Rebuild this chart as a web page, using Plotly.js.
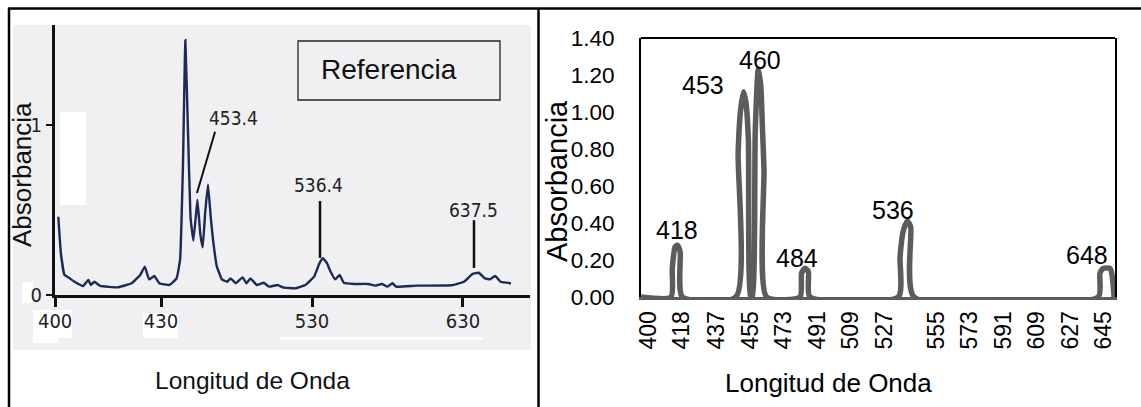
<!DOCTYPE html>
<html>
<head>
<meta charset="utf-8">
<script src="https://cdn.plot.ly/plotly-3.0.1.min.js"></script>
<style>
  html, body { margin: 0; padding: 0; background: #ffffff; }
  #chart { width: 1141px; height: 407px; }
</style>
</head>
<body>
<div id="chart"></div>
<script>
// ---------- Left panel: reference spectrum ----------
const refWavelength = [
  400.9, 401.6, 402.6, 404.0, 405.5, 407.9, 409.4, 410.1, 411.1, 412.8,
  417.7, 421.7, 424.1, 425.4, 426.6, 428.1, 429.5, 435.7, 440.3, 442.6,
  444.5, 446.1, 447.9, 449.5, 451.4, 453.0, 454.1, 456.0, 457.6, 459.2,
  461.1, 462.9, 464.5, 466.9, 470.3, 473.8, 476.1, 479.5, 484.1, 486.5,
  489.2, 493.4, 498.0, 501.5, 507.2, 510.7, 518.7, 525.7, 531.4, 534.9,
  537.2, 540.0, 541.8, 545.3, 548.3, 551.1, 557.9, 567.2, 571.8, 576.4,
  579.9, 583.3, 585.7, 599.5, 622.5, 630.6, 636.4, 640.5, 644.5, 647.9,
  651.4, 654.9, 661.8
];
const refAbsorbance = [
  0.46, 0.25, 0.12, 0.10, 0.078, 0.053, 0.088, 0.059, 0.078, 0.053,
  0.045, 0.069, 0.118, 0.167, 0.092, 0.112, 0.069, 0.059, 0.098, 0.206,
  0.755, 1.50, 0.95, 0.46, 0.32, 0.46, 0.56, 0.36, 0.28, 0.48,
  0.65, 0.46, 0.32, 0.17, 0.092, 0.078, 0.098, 0.069, 0.104, 0.069,
  0.098, 0.059, 0.072, 0.049, 0.059, 0.045, 0.039, 0.059, 0.108, 0.186,
  0.216, 0.186, 0.147, 0.092, 0.118, 0.072, 0.065, 0.065, 0.055, 0.065,
  0.049, 0.069, 0.049, 0.055, 0.057, 0.078, 0.124, 0.131, 0.098, 0.092,
  0.112, 0.078, 0.069
];
const refTickValues = [400, 430, 530, 630];
const refYTicks = [0, 1];
const refPeakLabels = ['453.4', '536.4', '637.5'];

// ---------- Right panel: measured spectrum ----------
const sampleWavelength = [
  396.2,
  412.3, 413.0, 414.5, 415.7, 417.2, 418.4,
  447.2, 448.4, 449.6, 451.3, 452.6, 453.9, 455.1,
  456.0, 457.6, 459.2, 460.5, 461.5, 462.3, 463.7,
  481.6, 482.5, 484.3, 486.1, 487.0,
  534.5, 535.4, 537.2, 539.3, 541.1, 542.9,
  641.9, 642.8, 644.6, 648.2, 649.3, 650.4
];
const sampleAbsorbance = [
  0,
  0, 0.155, 0.27, 0.28, 0.245, 0,
  0, 0.78, 1.00, 1.11, 1.05, 0.85, 0,
  0, 0.90, 1.23, 1.15, 0.90, 0.69, 0,
  0, 0.13, 0.155, 0.137, 0,
  0, 0.218, 0.36, 0.41, 0.38, 0,
  0, 0.128, 0.155, 0.155, 0.12, 0
];
const sampleTickLabels = ['400','418','437','455','473','491','509','527','555','573','591','609','627','645'];
const sampleYTicks = [0, 0.2, 0.4, 0.6, 0.8, 1.0, 1.2, 1.4];
const samplePeakLabels = ['418', '453', '460', '484', '536', '648'];

// ---------- helpers (layout only) ----------
const W = 1141, H = 407;
const px = x => x / W;
const py = y => 1 - y / H;
// the reference scan has a compressed segment 400-430 nm
const toRefAxis = w => (w < 430 ? 430 - (430 - w) * 2.338 : w);

const narrow = 'DejaVu Sans Condensed, Liberation Sans Narrow, sans-serif';
const arial = 'Liberation Sans, Arial, sans-serif';

const traces = [
  {
    x: refWavelength.map(toRefAxis), y: refAbsorbance,
    xaxis: 'x', yaxis: 'y', type: 'scatter', mode: 'lines',
    line: { color: '#1b2a57', width: 2.4, shape: 'spline', smoothing: 0.3 },
    hoverinfo: 'skip'
  },
  {
    x: sampleWavelength, y: sampleAbsorbance,
    xaxis: 'x2', yaxis: 'y2', type: 'scatter', mode: 'lines',
    line: { color: '#5c5c5c', width: 5.5, shape: 'spline', smoothing: 0.6 },
    hoverinfo: 'skip'
  }
];

const shapes = [
  // scanned image background
  { type: 'rect', xref: 'paper', yref: 'paper', x0: px(13), x1: px(531), y0: py(350), y1: py(25),
    fillcolor: '#f0f0f2', line: { width: 0 }, layer: 'below' },
  // white scan artifacts
  { type: 'rect', xref: 'paper', yref: 'paper', x0: px(60), x1: px(86), y0: py(205), y1: py(112),
    fillcolor: '#ffffff', line: { width: 0 }, layer: 'below' },
  { type: 'rect', xref: 'paper', yref: 'paper', x0: px(22), x1: px(33), y0: py(303), y1: py(282),
    fillcolor: '#ffffff', line: { width: 0 }, layer: 'below' },
  { type: 'rect', xref: 'paper', yref: 'paper', x0: px(33), x1: px(72), y0: py(338), y1: py(310),
    fillcolor: '#ffffff', line: { width: 0 }, layer: 'below' },
  { type: 'rect', xref: 'paper', yref: 'paper', x0: px(33), x1: px(58), y0: py(343), y1: py(338),
    fillcolor: '#ffffff', line: { width: 0 }, layer: 'below' },
  { type: 'rect', xref: 'paper', yref: 'paper', x0: px(143), x1: px(178), y0: py(338), y1: py(313),
    fillcolor: '#ffffff', line: { width: 0 }, layer: 'below' },
  { type: 'rect', xref: 'paper', yref: 'paper', x0: px(280), x1: px(483), y0: py(340), y1: py(337),
    fillcolor: '#ffffff', line: { width: 0 }, layer: 'below' },
  // Referencia box
  { type: 'rect', xref: 'paper', yref: 'paper', x0: px(298), x1: px(500), y0: py(100), y1: py(41),
    line: { color: '#222', width: 1.3 }, fillcolor: 'rgba(0,0,0,0)' },
  // peak leader lines (left)
  { type: 'line', xref: 'x', yref: 'y', x0: toRefAxis(465.8), y0: 0.96, x1: toRefAxis(453.8), y1: 0.60,
    line: { color: '#111', width: 2 } },
  { type: 'line', xref: 'x', yref: 'y', x0: toRefAxis(535.3), y0: 0.553, x1: toRefAxis(535.3), y1: 0.218,
    line: { color: '#111', width: 2.5 } },
  { type: 'line', xref: 'x', yref: 'y', x0: toRefAxis(637.3), y0: 0.44, x1: toRefAxis(637.3), y1: 0.159,
    line: { color: '#111', width: 2.5 } },
  // right plot top border
  { type: 'line', xref: 'x2 domain', yref: 'y2 domain', x0: 0, x1: 1, y0: 1, y1: 1,
    line: { color: '#000', width: 2 } },
  // table borders
  { type: 'line', xref: 'paper', yref: 'paper', x0: px(8), x1: 1, y0: py(8.5), y1: py(8.5),
    line: { color: '#000', width: 2.5 } },
  { type: 'line', xref: 'paper', yref: 'paper', x0: px(9), x1: px(9), y0: 0, y1: py(8.5),
    line: { color: '#000', width: 2.5 } },
  { type: 'line', xref: 'paper', yref: 'paper', x0: px(538.5), x1: px(538.5), y0: 0, y1: py(8.5),
    line: { color: '#000', width: 2.5 } }
];

const annotations = [
  // left titles
  { xref: 'paper', yref: 'paper', x: px(22), y: py(175), text: 'Absorbancia', textangle: -90,
    showarrow: false, xanchor: 'center', yanchor: 'middle', font: { family: arial, size: 26, color: '#111' } },
  { xref: 'paper', yref: 'paper', x: px(252), y: py(380), text: 'Longitud de Onda',
    showarrow: false, xanchor: 'center', yanchor: 'middle', font: { family: arial, size: 24.5, color: '#111' } },
  { xref: 'paper', yref: 'paper', x: px(389), y: py(70), text: 'Referencia',
    showarrow: false, xanchor: 'center', yanchor: 'middle', font: { family: arial, size: 28, color: '#111' } },
  // left peak labels
  { xref: 'x', yref: 'y', x: toRefAxis(477.7), y: 1.04, text: refPeakLabels[0], showarrow: false,
    xanchor: 'center', yanchor: 'middle', font: { family: narrow, size: 19, color: '#222' } },
  { xref: 'x', yref: 'y', x: toRefAxis(534.4), y: 0.647, text: refPeakLabels[1], showarrow: false,
    xanchor: 'center', yanchor: 'middle', font: { family: narrow, size: 19, color: '#222' } },
  { xref: 'x', yref: 'y', x: toRefAxis(637.3), y: 0.50, text: refPeakLabels[2], showarrow: false,
    xanchor: 'center', yanchor: 'middle', font: { family: narrow, size: 19, color: '#222' } },
  // right titles
  { xref: 'paper', yref: 'paper', x: px(557), y: py(181), text: 'Absorbancia', textangle: -90,
    showarrow: false, xanchor: 'center', yanchor: 'middle', font: { family: arial, size: 29, color: '#000' } },
  { xref: 'paper', yref: 'paper', x: px(829), y: py(383), text: 'Longitud de Onda',
    showarrow: false, xanchor: 'center', yanchor: 'middle', font: { family: arial, size: 26, color: '#000' } }
];

// right data labels
const sampleLabelPos = [[415.4, 0.362], [429.7, 1.146], [460.1, 1.281], [480.0, 0.211], [531.6, 0.47], [635.7, 0.227]];
samplePeakLabels.forEach((t, i) => {
  annotations.push({ xref: 'x2', yref: 'y2', x: sampleLabelPos[i][0], y: sampleLabelPos[i][1], text: t,
    showarrow: false, xanchor: 'center', yanchor: 'middle', font: { family: arial, size: 25, color: '#000' } });
});

const layout = {
  width: W, height: H,
  margin: { l: 0, r: 0, t: 0, b: 0 },
  paper_bgcolor: '#ffffff', plot_bgcolor: 'rgba(0,0,0,0)',
  showlegend: false,
  xaxis: {
    domain: [px(55), px(530)], anchor: 'y',
    range: [toRefAxis(400) - 0.1, 674.4],
    tickmode: 'array', tickvals: refTickValues.map(toRefAxis), ticktext: refTickValues.map(String),
    ticks: 'outside', ticklen: 9, tickwidth: 3, tickcolor: '#111', ticklabelstandoff: -3,
    showline: true, linewidth: 3, linecolor: '#111',
    showgrid: false, zeroline: false, fixedrange: true,
    tickfont: { family: narrow, size: 20, color: '#222' }
  },
  yaxis: {
    domain: [py(295), py(25)], anchor: 'x',
    range: [0, 1.588],
    tickmode: 'array', tickvals: refYTicks, ticktext: refYTicks.map(String),
    ticks: 'outside', ticklen: 6, tickwidth: 2.5, tickcolor: '#111',
    showline: true, linewidth: 3, linecolor: '#111',
    showgrid: false, zeroline: false, fixedrange: true,
    tickfont: { family: narrow, size: 20, color: '#222' }
  },
  xaxis2: {
    domain: [px(641), px(1115)], anchor: 'y2',
    range: [396.2, 650.9],
    tickmode: 'array', tickvals: sampleTickLabels.map(Number), ticktext: sampleTickLabels,
    tickangle: -90, ticks: '', ticklabelstandoff: 2,
    showline: true, linewidth: 3, linecolor: '#5c5c5c',
    showgrid: false, zeroline: false, fixedrange: true,
    tickfont: { family: arial, size: 23, color: '#000' }
  },
  yaxis2: {
    domain: [py(297), py(38)], anchor: 'x2',
    range: [0, 1.4],
    tickmode: 'array', tickvals: sampleYTicks, ticktext: sampleYTicks.map(v => v.toFixed(2)),
    ticks: '', ticklabelstandoff: 20,
    showline: true, mirror: true, linewidth: 2, linecolor: '#000',
    showgrid: false, zeroline: false, fixedrange: true,
    tickfont: { family: arial, size: 22.5, color: '#000' }
  },
  shapes: shapes,
  annotations: annotations
};

Plotly.newPlot('chart', traces, layout, { staticPlot: true, displayModeBar: false });
</script>
</body>
</html>
